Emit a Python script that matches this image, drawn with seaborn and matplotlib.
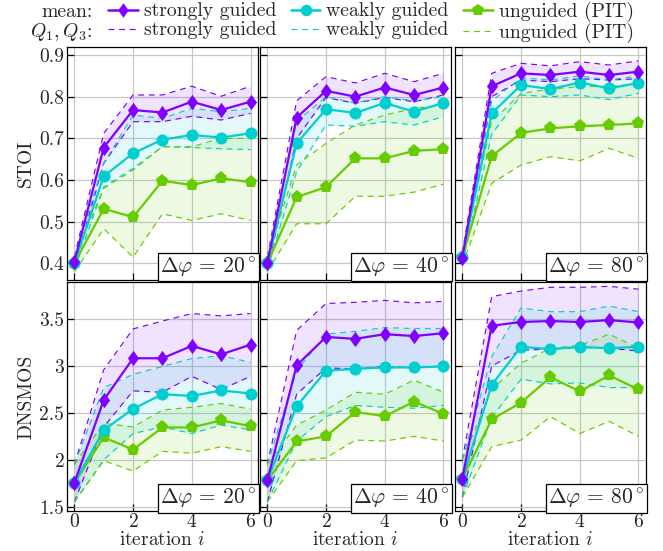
import numpy as np
import pandas as pd
import seaborn as sns
import matplotlib.pyplot as plt
from matplotlib.lines import Line2D
from matplotlib.path import Path
from matplotlib.ticker import FuncFormatter

iters = [0, 1, 2, 3, 4, 5, 6]
angles = [20, 40, 80]
methods = ["strongly guided", "weakly guided", "unguided (PIT)"]
keys = ["strong", "weak", "ung"]
colors = ["#7f00ff", "#00cfcf", "#66cc00"]

# tall diamond like the reference
tall_diamond = Path([(0, 1), (0.73, 0), (0, -1), (-0.73, 0), (0, 1)],
                    [Path.MOVETO, Path.LINETO, Path.LINETO, Path.LINETO, Path.CLOSEPOLY])
markers = [tall_diamond, "o", "p"]
msizes = [11, 8.7, 9.5]

# STOI, delta phi = 20
stoi20_strong_mean = [0.404, 0.678, 0.768, 0.762, 0.788, 0.768, 0.788]
stoi20_strong_q1 = [0.39, 0.64, 0.74, 0.74, 0.753, 0.744, 0.76]
stoi20_strong_q3 = [0.415, 0.712, 0.804, 0.804, 0.825, 0.801, 0.825]
stoi20_weak_mean = [0.40, 0.609, 0.664, 0.697, 0.708, 0.702, 0.712]
stoi20_weak_q1 = [0.385, 0.583, 0.628, 0.68, 0.678, 0.675, 0.673]
stoi20_weak_q3 = [0.415, 0.64, 0.756, 0.748, 0.772, 0.764, 0.772]
stoi20_ung_mean = [0.40, 0.531, 0.511, 0.598, 0.588, 0.604, 0.595]
stoi20_ung_q1 = [0.38, 0.483, 0.415, 0.519, 0.503, 0.519, 0.503]
stoi20_ung_q3 = [0.415, 0.58, 0.624, 0.68, 0.68, 0.70, 0.70]

# STOI, delta phi = 40
stoi40_strong_mean = [0.40, 0.750, 0.814, 0.80, 0.822, 0.804, 0.822]
stoi40_strong_q1 = [0.385, 0.70, 0.798, 0.784, 0.798, 0.788, 0.804]
stoi40_strong_q3 = [0.415, 0.79, 0.848, 0.833, 0.856, 0.836, 0.856]
stoi40_weak_mean = [0.40, 0.688, 0.770, 0.761, 0.785, 0.764, 0.785]
stoi40_weak_q1 = [0.385, 0.62, 0.732, 0.729, 0.74, 0.732, 0.752]
stoi40_weak_q3 = [0.415, 0.74, 0.80, 0.785, 0.80, 0.79, 0.80]
stoi40_ung_mean = [0.40, 0.559, 0.583, 0.652, 0.652, 0.67, 0.674]
stoi40_ung_q1 = [0.38, 0.495, 0.495, 0.561, 0.561, 0.571, 0.59]
stoi40_ung_q3 = [0.415, 0.636, 0.688, 0.732, 0.756, 0.772, 0.78]

# STOI, delta phi = 80
stoi80_strong_mean = [0.414, 0.825, 0.856, 0.852, 0.86, 0.852, 0.86]
stoi80_strong_q1 = [0.40, 0.80, 0.84, 0.836, 0.843, 0.84, 0.843]
stoi80_strong_q3 = [0.425, 0.856, 0.88, 0.874, 0.884, 0.876, 0.886]
stoi80_weak_mean = [0.415, 0.760, 0.828, 0.818, 0.834, 0.82, 0.833]
stoi80_weak_q1 = [0.40, 0.71, 0.804, 0.80, 0.804, 0.793, 0.808]
stoi80_weak_q3 = [0.425, 0.79, 0.845, 0.84, 0.85, 0.84, 0.85]
stoi80_ung_mean = [0.415, 0.657, 0.713, 0.724, 0.729, 0.732, 0.736]
stoi80_ung_q1 = [0.395, 0.592, 0.636, 0.656, 0.646, 0.676, 0.652]
stoi80_ung_q3 = [0.425, 0.74, 0.808, 0.818, 0.824, 0.825, 0.83]

# DNSMOS, delta phi = 20
dns20_strong_mean = [1.754, 2.637, 3.083, 3.083, 3.215, 3.124, 3.228]
dns20_strong_q1 = [1.55, 2.35, 2.735, 2.72, 2.89, 2.75, 2.89]
dns20_strong_q3 = [1.95, 2.96, 3.396, 3.48, 3.56, 3.535, 3.56]
dns20_weak_mean = [1.75, 2.317, 2.543, 2.70, 2.68, 2.74, 2.707]
dns20_weak_q1 = [1.55, 2.0, 2.28, 2.35, 2.28, 2.37, 2.32]
dns20_weak_q3 = [1.95, 2.77, 2.91, 2.996, 3.08, 3.11, 3.04]
dns20_ung_mean = [1.75, 2.24, 2.108, 2.345, 2.345, 2.42, 2.359]
dns20_ung_q1 = [1.55, 1.99, 1.88, 2.09, 2.07, 2.14, 2.09]
dns20_ung_q3 = [1.95, 2.39, 2.35, 2.53, 2.56, 2.60, 2.54]

# DNSMOS, delta phi = 40
dns40_strong_mean = [1.78, 3.007, 3.31, 3.29, 3.34, 3.32, 3.35]
dns40_strong_q1 = [1.55, 2.7, 2.98, 2.97, 2.996, 2.98, 3.0]
dns40_strong_q3 = [1.95, 3.38, 3.667, 3.68, 3.70, 3.674, 3.69]
dns40_weak_mean = [1.78, 2.57, 2.95, 2.97, 2.985, 2.985, 2.996]
dns40_weak_q1 = [1.55, 2.2, 2.46, 2.58, 2.56, 2.55, 2.58]
dns40_weak_q3 = [1.95, 2.95, 3.34, 3.37, 3.41, 3.40, 3.40]
dns40_ung_mean = [1.78, 2.195, 2.25, 2.51, 2.465, 2.62, 2.49]
dns40_ung_q1 = [1.55, 1.99, 2.02, 2.21, 2.20, 2.25, 2.20]
dns40_ung_q3 = [1.95, 2.37, 2.53, 2.72, 2.70, 2.85, 2.72]

# DNSMOS, delta phi = 80
dns80_strong_mean = [1.80, 3.43, 3.47, 3.48, 3.47, 3.49, 3.465]
dns80_strong_q1 = [1.6, 3.0, 3.17, 3.18, 3.2, 3.19, 3.16]
dns80_strong_q3 = [2.0, 3.74, 3.80, 3.84, 3.84, 3.85, 3.82]
dns80_weak_mean = [1.80, 2.80, 3.205, 3.18, 3.205, 3.19, 3.205]
dns80_weak_q1 = [1.6, 2.45, 2.86, 2.81, 2.82, 2.77, 2.77]
dns80_weak_q3 = [2.0, 3.1, 3.62, 3.58, 3.58, 3.64, 3.58]
dns80_ung_mean = [1.80, 2.43, 2.61, 2.88, 2.73, 2.90, 2.75]
dns80_ung_q1 = [1.6, 2.14, 2.21, 2.46, 2.28, 2.41, 2.25]
dns80_ung_q3 = [2.0, 2.75, 3.03, 3.19, 3.22, 3.34, 3.19]

sns.set_theme(style="white")
plt.rcParams["font.family"] = ["serif"]
plt.rcParams["font.serif"] = ["cmr10", "DejaVu Serif"]
plt.rcParams["mathtext.fontset"] = "cm"
plt.rcParams["axes.formatter.use_mathtext"] = True

FS = 14
plt.rcParams["font.size"] = FS
fig = plt.figure(figsize=(6.63, 5.51), dpi=100)

g = globals()
rows = [("stoi", "STOI", (0.36, 0.92), [0.4, 0.5, 0.6, 0.7, 0.8, 0.9]),
        ("dns", "DNSMOS", (1.45, 3.9), [1.5, 2, 2.5, 3, 3.5])]
row_bottom = [0.4918, 0.0720]
row_h = [0.4235, 0.4168]
col_left = [0.1011, 0.3921, 0.6863]
col_w = 0.2878
dash = (0, (5, 4))

for r, (pref, ylab, ylim, yticks) in enumerate(rows):
    for c, ang in enumerate(angles):
        ax = fig.add_axes([col_left[c], row_bottom[r], col_w, row_h[r]])
        ax.grid(True, color="#c8c8c8", linewidth=0.9)
        ax.set_axisbelow(True)

        # quartile bands and dashed bounds
        for k, col in zip(keys, colors):
            q1 = g[f"{pref}{ang}_{k}_q1"]
            q3 = g[f"{pref}{ang}_{k}_q3"]
            ax.fill_between(iters, q1, q3, color=col, alpha=0.11, linewidth=0)
            for q in (q1, q3):
                sns.lineplot(x=iters, y=q, ax=ax, color=col, linewidth=0.85,
                             linestyle=dash)
        # means, strongly guided on top
        for k, col, m, ms in list(zip(keys, colors, markers, msizes))[::-1]:
            mean = g[f"{pref}{ang}_{k}_mean"]
            sns.lineplot(x=iters, y=mean, ax=ax, color=col, linewidth=1.6,
                         marker=m, markersize=ms, markeredgewidth=0)

        ax.set_xlim(-0.25, 6.25)
        ax.set_ylim(*ylim)
        ax.set_xticks([0, 2, 4, 6])
        ax.set_yticks(yticks)
        ax.yaxis.set_major_formatter(FuncFormatter(lambda v, p: f"{v:g}"))
        ax.tick_params(direction="in", length=5, width=0.9, color="black",
                       left=True, bottom=True, labelsize=FS)
        ax.tick_params(axis="x", pad=1)
        ax.tick_params(axis="y", pad=2)
        for s in ax.spines.values():
            s.set_color("black")
            s.set_linewidth(0.9)
        if c == 0:
            ax.set_ylabel(ylab, fontsize=FS, labelpad=3)
        else:
            ax.set_ylabel("")
            ax.set_yticklabels([])
        if r == 1:
            ax.set_xlabel("iteration $i$", fontsize=FS, labelpad=0.5)
        else:
            ax.set_xticklabels([])
            ax.set_xlabel("")
        ax.text(0.995, 0.006, rf"$\Delta\varphi\, =\, {ang}^\circ$", transform=ax.transAxes,
                ha="right", va="bottom", fontsize=15.5, zorder=10,
                bbox=dict(boxstyle="square,pad=0.12", facecolor="white",
                          edgecolor="black", linewidth=0.9))
        if ax.get_legend() is not None:
            ax.get_legend().remove()

# legend
handles = []
labels = []
for name, col, m, ms in zip(methods, colors, markers, msizes):
    handles.append(Line2D([], [], color=col, linewidth=1.8, marker=m, markersize=ms * 0.95,
                          markeredgewidth=0))
    labels.append(name)
    handles.append(Line2D([], [], color=col, linewidth=0.85, linestyle=dash))
    labels.append(name)
LFS = 14.2
fig.text(0.139, 0.978, "mean:", ha="right", va="center", fontsize=LFS)
fig.text(0.139, 0.942, "$Q_1, Q_3$:", ha="right", va="center", fontsize=LFS)
fig.legend(handles, labels, ncol=3, loc="center left", bbox_to_anchor=(0.163, 0.96),
           frameon=False, fontsize=LFS, handlelength=1.5, handletextpad=0.3,
           columnspacing=0.75, labelspacing=0.05, borderpad=0, borderaxespad=0)

fig.savefig("out.png", dpi=100)
